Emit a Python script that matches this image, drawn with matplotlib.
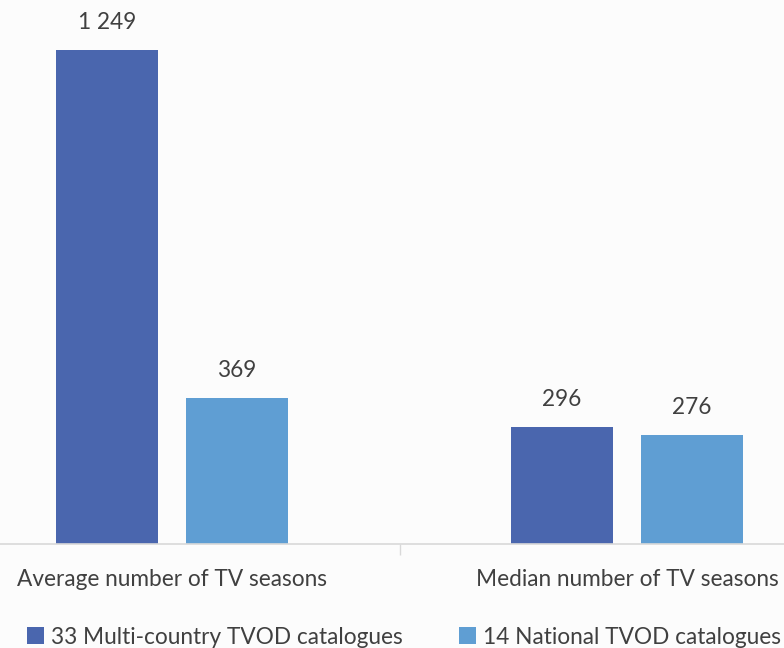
import numpy as np
import matplotlib.pyplot as plt

categories = ['Average number of TV seasons', 'Median number of TV seasons']
series_names = ['33 Multi-country TVOD catalogues', '14 National TVOD catalogues']
multi_country = [1249, 296]
national = [369, 276]
colors = ['#4A66AE', '#5F9ED3']

plt.rcParams['font.family'] = ['Lato', 'DejaVu Sans']
text_color = '#404040'
bg = '#FCFCFC'
fs = 16.3

W, H = 784, 648
fig = plt.figure(figsize=(W / 100, H / 100), dpi=100, facecolor=bg)
# axes reaches past the figure edges, like the cropped original
left_px, right_px, top_px, bottom_px = -55.5, 854.5, 0, 544
ax = fig.add_axes([left_px / W, 1 - bottom_px / H,
                   (right_px - left_px) / W, (bottom_px - top_px) / H])
ax.set_facecolor(bg)

x = np.arange(len(categories))
width = 0.224
offset = 0.143
bars1 = ax.bar(x - offset, multi_country, width, color=colors[0], label=series_names[0])
bars2 = ax.bar(x + offset, national, width, color=colors[1], label=series_names[1])

ax.set_xlim(-0.5, 1.5)
ax.set_ylim(0, 1375)


def fmt(v):
    return f'{v:,}'.replace(',', ' ')


for bars in (bars1, bars2):
    for b in bars:
        ax.annotate(fmt(int(b.get_height())), (b.get_x() + b.get_width() / 2, b.get_height()),
                    xytext=(0, 17), textcoords='offset pixels', ha='center', va='bottom',
                    fontsize=fs, color=text_color)

for s in ['top', 'right', 'left']:
    ax.spines[s].set_visible(False)
ax.spines['bottom'].set_color('#D9D9D9')
ax.spines['bottom'].set_linewidth(1.2)
ax.set_yticks([])

ax.set_xticks(x)
ax.set_xticklabels(categories, fontsize=fs, color=text_color)
ax.tick_params(axis='x', length=0, pad=18)
ax.set_xticks([0.5], minor=True)
ax.tick_params(axis='x', which='minor', length=8, color='#D9D9D9', width=1)

handles = [bars1, bars2]
fig.legend(handles, series_names, loc='center', bbox_to_anchor=(404 / W, 1 - 637 / H),
           ncol=2, frameon=False, fontsize=fs, labelcolor=text_color,
           handlelength=0.75, handleheight=0.75, handletextpad=0.3, columnspacing=2.47)

fig.savefig('out.png', dpi=100, facecolor=bg)
